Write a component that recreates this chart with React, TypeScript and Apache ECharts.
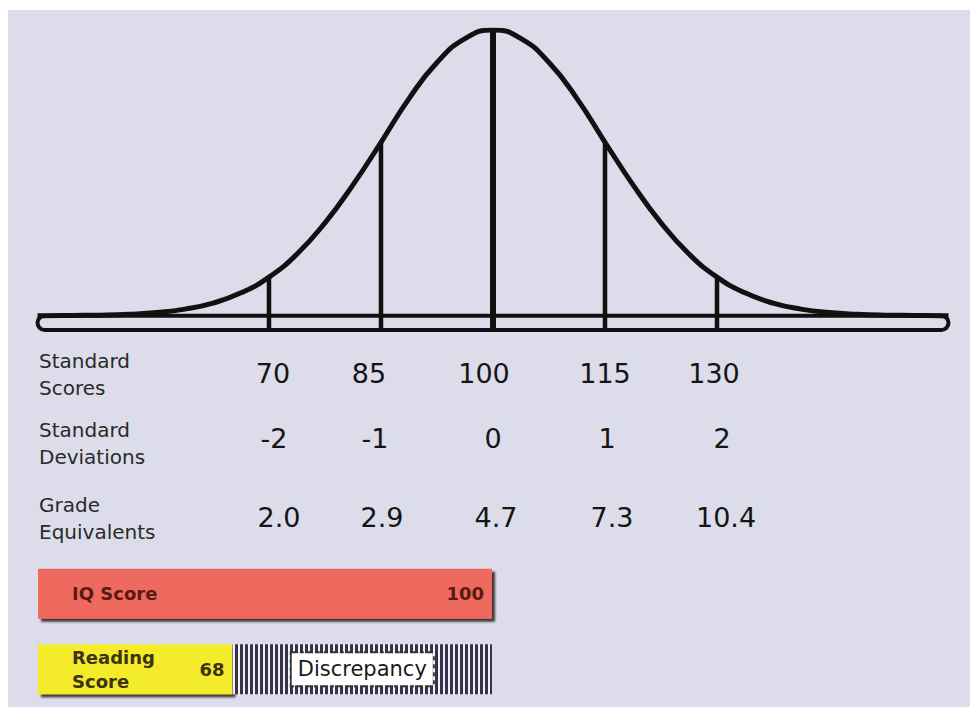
import React, { useEffect, useRef } from "react";
import * as echarts from "echarts";

// ---- data ----
const scores = [70, 85, 100, 115, 130];
const sdLabels = ["-2", "-1", "0", "1", "2"];
const gradeEquivalents = ["2.0", "2.9", "4.7", "7.3", "10.4"];
const scoreLineHeights = [0.135, 0.607, 1.0, 0.607, 0.135];
const rowTitles = ["Standard\nScores", "Standard\nDeviations", "Grade\nEquivalents"];

const curveX = [
  39, 40, 43.75, 47.5, 51.25, 55, 58.75, 62.5, 66.25, 70, 73.75, 77.5, 81.25, 85, 88.75, 92.5, 96.25,
  100, 103.75, 107.5, 111.25, 115, 118.75, 122.5, 126.25, 130, 133.75, 137.5, 141.25, 145, 148.75,
  152.5, 156.25, 160, 161,
];
const curveY = [
  0, 0, 0.001, 0.002, 0.005, 0.011, 0.023, 0.044, 0.08, 0.135, 0.216, 0.325, 0.458, 0.607, 0.76, 0.886,
  0.97, 1.0, 0.97, 0.886, 0.76, 0.607, 0.458, 0.325, 0.216, 0.135, 0.08, 0.044, 0.023, 0.011, 0.005,
  0.002, 0.001, 0, 0,
];
const baselineRange = [39, 161];

const barCategories = ["IQ Score", "Reading Score"];
const barScores = [100, 68];
const discrepancyValues: (number | string)[] = ["-", 32];
const discrepancyLabel = "Discrepancy";

// ---- layout / style ----
const FONT = "DejaVu Sans";
const Y_MIN = -0.05;
const X_MIN = 39;
const X_MAX = 161;
// horizontal nudges (px) of each row's labels relative to their tick
const rowNudges = [
  [4, -12, -9, 0, -3],
  [5, -6, 0, 2, 5],
  [10, 1, 3, 7, 9],
];
const rowMargins = [29, 94, 173];
const rowTitleY = [374, 443, 518];

export default function App() {
  const ref = useRef<HTMLDivElement>(null);

  useEffect(() => {
    const chart = echarts.init(ref.current!, null, { renderer: "svg" });

    const rowAxis = (labels: string[], row: number) => {
      const rich: any = {};
      rowNudges[row].forEach((dx, i) => {
        rich["c" + i] = {
          fontFamily: FONT,
          fontSize: 27,
          lineHeight: 28,
          color: "#151515",
          padding: dx >= 0 ? [0, 0, 0, 2 * dx] : [0, -2 * dx, 0, 0],
        };
      });
      return {
        type: "value",
        gridIndex: 0,
        min: X_MIN,
        max: X_MAX,
        position: "bottom",
        axisLine: { show: false, onZero: false },
        axisTick: { show: false },
        splitLine: { show: false },
        axisLabel: {
          customValues: scores,
          margin: rowMargins[row],
          fontFamily: FONT,
          fontSize: 27,
          lineHeight: 28,
          color: "#151515",
          formatter: (v: number) => {
            const i = scores.indexOf(v);
            return i < 0 ? "" : `{c${i}|${labels[i]}}`;
          },
          rich,
        },
      };
    };

    const option: any = {
      animation: false,
      backgroundColor: "#ffffff",
      graphic: [
        {
          type: "rect",
          z: -100,
          silent: true,
          shape: { x: 8, y: 10, width: 962, height: 697 },
          style: { fill: "#dcdcea" },
        },
        ...rowTitles.map((t, i) => ({
          type: "text",
          x: 39,
          y: rowTitleY[i],
          z: 10,
          style: {
            text: t,
            fontFamily: FONT,
            fontSize: 20,
            lineHeight: 27,
            fill: "#2a2a2a",
            verticalAlign: "middle",
            align: "left",
          },
        })),
      ],
      grid: [
        { left: 37.5, width: 911, top: 30, height: 300 },
        { left: 38, width: 454, top: 556, height: 151 },
      ],
      xAxis: [
        rowAxis(scores.map(String), 0),
        rowAxis(sdLabels, 1),
        rowAxis(gradeEquivalents, 2),
        { type: "value", gridIndex: 1, min: 44, max: 100, show: false },
      ],
      yAxis: [
        { type: "value", gridIndex: 0, min: Y_MIN, max: 1, show: false },
        {
          type: "category",
          gridIndex: 1,
          data: barCategories,
          inverse: true,
          z: 10,
          axisLine: { show: false },
          axisTick: { show: false },
          splitLine: { show: false },
          axisLabel: {
            inside: true,
            margin: 34,
            fontFamily: FONT,
            formatter: (v: string, i: number) =>
              i === 0 ? `{iq|${v}}` : v.split(" ").map((w) => `{rd|${w}}`).join("\n"),
            rich: {
              iq: { fontFamily: FONT, fontSize: 18, fontWeight: "bold", color: "#5a1a12" },
              rd: { fontFamily: FONT, fontSize: 18, fontWeight: "bold", color: "#3b3410", lineHeight: 24 },
            },
          },
        },
      ],
      series: [
        {
          type: "custom",
          name: "baseline",
          xAxisIndex: 0,
          yAxisIndex: 0,
          z: 3,
          data: [baselineRange],
          renderItem: (params: any, api: any) => {
            const p0 = api.coord([api.value(0), 0]);
            const p1 = api.coord([api.value(1), Y_MIN]);
            const h = p1[1] - p0[1];
            return {
              type: "rect",
              shape: { x: p0[0], y: p0[1], width: p1[0] - p0[0], height: h, r: h / 2 },
              style: { fill: "none", stroke: "#111", lineWidth: 4 },
            };
          },
        },
        {
          type: "custom",
          name: "score lines",
          xAxisIndex: 0,
          yAxisIndex: 0,
          z: 3,
          data: scores.map((s, i) => [s, scoreLineHeights[i]]),
          renderItem: (params: any, api: any) => {
            const x = api.value(0);
            const p0 = api.coord([x, Y_MIN]);
            const p1 = api.coord([x, api.value(1)]);
            return {
              type: "line",
              shape: { x1: p0[0], y1: p0[1] - 1, x2: p1[0], y2: p1[1] },
              style: { stroke: "#111", lineWidth: x === 100 ? 6 : 4.5 },
            };
          },
        },
        {
          type: "line",
          name: "curve",
          xAxisIndex: 0,
          yAxisIndex: 0,
          z: 4,
          smooth: true,
          showSymbol: false,
          symbol: "none",
          data: curveX.map((x, i) => [x, curveY[i]]),
          lineStyle: { color: "#111", width: 5 },
        },
        {
          type: "bar",
          name: "score",
          xAxisIndex: 3,
          yAxisIndex: 1,
          stack: "total",
          barWidth: 50,
          z: 2,
          data: barScores.map((v, i) => ({
            value: v,
            itemStyle: { color: i === 0 ? "#ee6a5e" : "#f4ec2c" },
            label: { color: i === 0 ? "#5a1a12" : "#3b3410" },
          })),
          itemStyle: {
            shadowColor: "rgba(40,25,25,0.85)",
            shadowBlur: 2,
            shadowOffsetX: 3,
            shadowOffsetY: 3,
          },
          label: {
            show: true,
            position: "insideRight",
            distance: 8,
            fontFamily: FONT,
            fontSize: 18,
            fontWeight: "bold",
          },
        },
        {
          type: "bar",
          name: "discrepancy",
          xAxisIndex: 3,
          yAxisIndex: 1,
          stack: "total",
          barWidth: 50,
          z: 2,
          data: discrepancyValues,
          itemStyle: {
            color: "#f0f0f6",
            decal: {
              symbol: "rect",
              symbolSize: 1,
              color: "#34344a",
              dashArrayX: [2.5, 1.5],
              dashArrayY: [4, 0],
              rotation: 0,
            },
          },
          label: {
            show: true,
            position: "inside",
            formatter: discrepancyLabel,
            fontFamily: FONT,
            fontSize: 21,
            color: "#1a1a1a",
            backgroundColor: "#ffffff",
            borderColor: "#333",
            borderType: "dotted",
            borderWidth: 2,
            padding: [6, 6, 5, 6],
          },
        },
      ],
    };

    chart.setOption(option);
    return () => chart.dispose();
  }, []);

  return (
    <div
      ref={ref}
      style={{ position: "absolute", left: 0, top: 0, width: 970, height: 707 }}
    />
  );
}
